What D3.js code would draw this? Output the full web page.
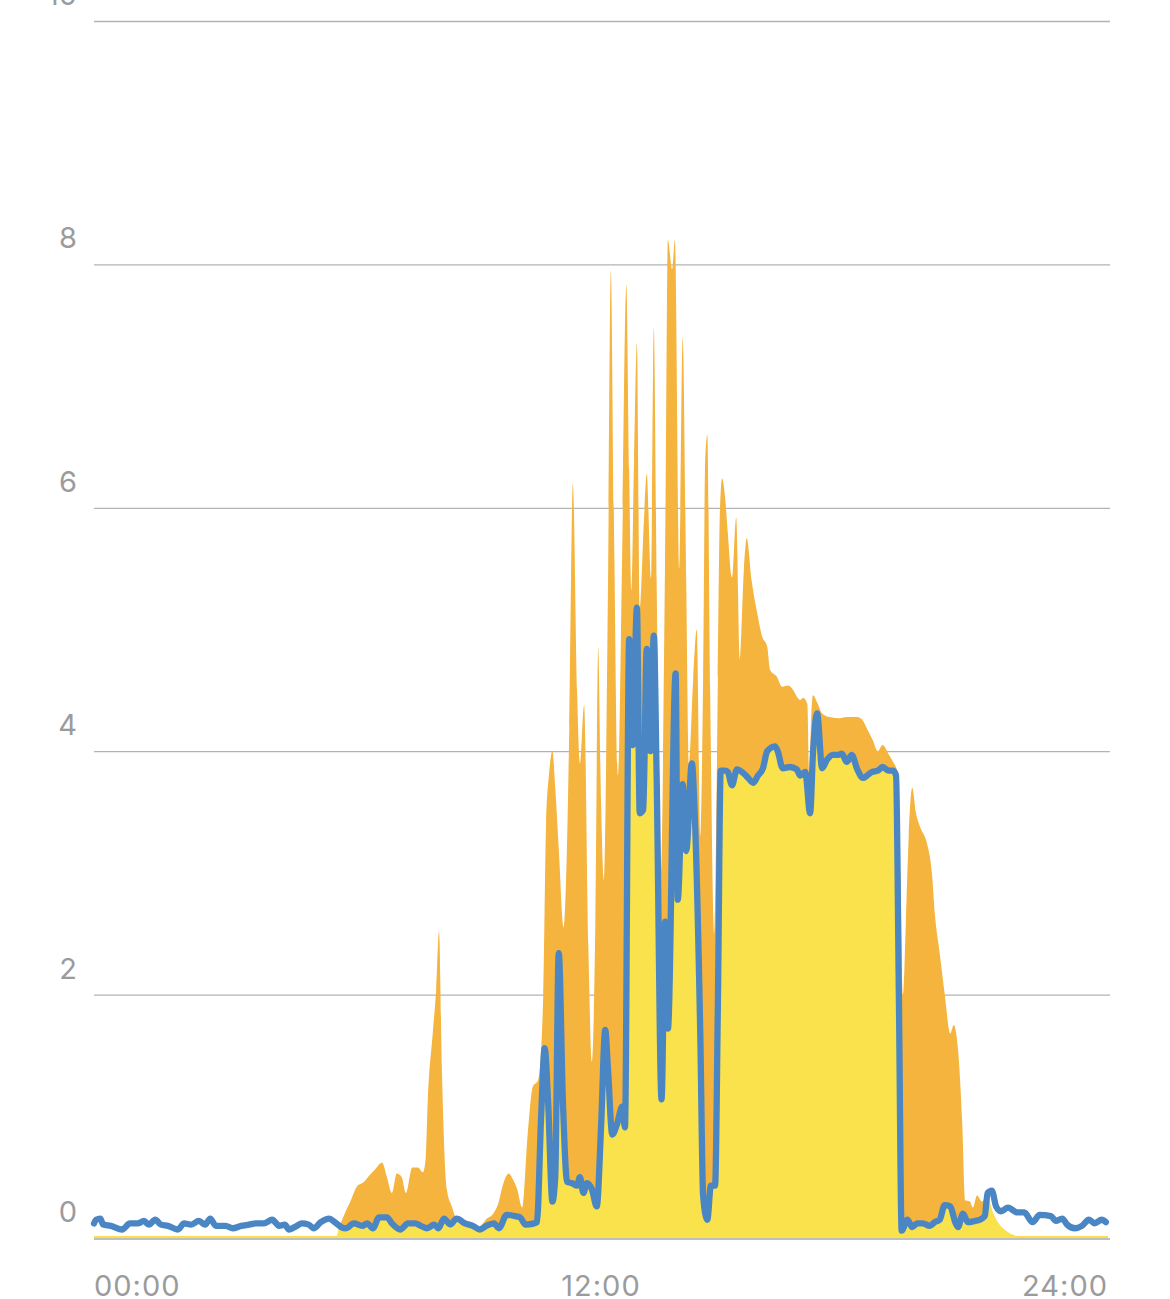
<!DOCTYPE html>
<html>
<head>
<meta charset="utf-8">
<script src="https://cdn.jsdelivr.net/npm/d3@7"></script>
<style>
html,body{margin:0;padding:0;background:#fff;overflow:hidden}
text{font-family:Inter,"Noto Sans",sans-serif;fill:#9b9b9b}
</style>
</head>
<body>
<svg id="chart" width="1170" height="1299"></svg>
<script>
// ---- data (minute of day, kW) ----
const productionMinutes = [0,344,349,356,364,373,383,392,400,409,416,423,430,437,443,452,460,467,471,474,481,486,490,494,501,508,515,524,534,545,558,567,575,579,589,595,601,608,616,623,631,638,642,646,651,655,660,667,675,680,686,690,696,702,707,712,716,720,724,730,734,739,744,750,756,760,763,767,771,775,781,785,791,795,799,805,811,815,821,825,831,836,841,845,851,856,861,865,868,871,875,881,886,889,892,896,900,906,912,917,923,927,934,942,949,956,960,970,977,986,993,998,1003,1007,1013,1016,1018,1021,1027,1034,1045,1059,1069,1084,1092,1099,1106,1113,1120,1128,1135,1140,1145,1149,1153,1157,1162,1167,1173,1183,1190,1194,1201,1208,1216,1221,1227,1233,1237,1244,1248,1254,1261,1268,1277,1287,1297,1305,1314,1325,1440];
const productionKW = [0,0,0.1,0.2,0.3,0.42,0.46,0.52,0.57,0.62,0.5,0.37,0.53,0.5,0.37,0.58,0.58,0.54,0.65,1.13,1.68,2.05,2.52,1.4,0.4,0.26,0.15,0.1,0.08,0.08,0.16,0.2,0.3,0.4,0.53,0.48,0.4,0.25,0.86,1.24,1.3,2.0,3.4,3.8,4.0,3.7,3.2,2.55,4.2,6.2,4.5,3.9,4.38,2.4,1.45,2.6,4.85,3.6,2.94,5.4,7.95,5.6,3.8,5.6,7.83,6.3,5.32,6.4,7.35,5.16,5.9,6.28,5.42,7.48,5.4,3.0,5.6,8.2,7.96,8.2,5.5,7.4,5.4,3.9,4.6,5.0,3.3,4.6,6.4,6.6,4.5,2.5,4.6,6.0,6.24,6.1,5.8,5.43,5.92,4.75,5.5,5.75,5.4,5.13,4.94,4.86,4.67,4.61,4.53,4.54,4.5,4.45,4.42,4.44,4.39,3.7,4.2,4.46,4.4,4.31,4.28,4.27,4.28,4.28,4.25,4.17,4.09,4.0,4.05,3.98,3.91,3.85,3.0,2.0,2.6,3.3,3.7,3.5,3.38,3.24,3.0,2.67,2.34,2.01,1.68,1.75,1.55,0.94,0.31,0.3,0.25,0.35,0.3,0.34,0.2,0.1,0.05,0.025,0.01,0,0];

const consumptionMinutes = [0,3,9,13,24,40,51,62,71,78,87,95,105,119,128,138,149,158,165,173,187,197,209,220,230,241,253,263,271,277,288,295,305,312,322,334,342,351,358,369,381,388,396,405,416,423,435,446,456,464,473,483,489,497,506,515,527,538,548,557,568,575,586,598,605,613,625,629,635,640,645,651,655,660,666,672,679,686,690,695,700,707,714,720,726,730,736,743,750,754,760,765,771,775,780,785,790,795,799,806,811,815,826,829,836,841,849,853,861,865,871,876,882,886,890,896,900,906,913,922,929,936,943,950,956,967,971,978,988,998,1003,1010,1017,1021,1027,1034,1041,1049,1057,1062,1069,1076,1084,1092,1098,1105,1113,1120,1128,1135,1139,1143,1147,1155,1162,1169,1177,1187,1194,1201,1208,1216,1223,1227,1234,1241,1251,1258,1265,1269,1275,1281,1288,1298,1311,1321,1333,1343,1359,1366,1375,1382,1393,1403,1413,1421,1431,1437];
const consumptionKW = [0.12,0.15,0.16,0.11,0.1,0.07,0.12,0.12,0.14,0.11,0.15,0.11,0.1,0.07,0.12,0.11,0.14,0.11,0.16,0.1,0.1,0.08,0.1,0.11,0.12,0.12,0.15,0.1,0.11,0.07,0.1,0.12,0.11,0.08,0.13,0.16,0.13,0.09,0.08,0.12,0.1,0.12,0.08,0.17,0.17,0.12,0.07,0.12,0.12,0.1,0.08,0.11,0.08,0.16,0.11,0.16,0.12,0.1,0.07,0.1,0.12,0.08,0.19,0.18,0.17,0.11,0.12,0.13,1.0,1.56,1.1,0.3,0.5,2.34,1.1,0.46,0.45,0.43,0.5,0.37,0.45,0.4,0.26,0.9,1.71,1.38,0.85,0.94,1.08,0.91,4.92,4.05,5.18,3.49,3.52,4.84,4.0,4.95,3.8,1.14,2.6,1.72,4.64,2.78,3.73,3.18,3.9,3.5,1.67,0.35,0.15,0.43,0.43,1.93,3.84,3.84,3.83,3.72,3.85,3.82,3.78,3.74,3.8,3.86,4.0,4.04,4.0,3.86,3.87,3.85,3.8,3.83,3.49,3.98,4.31,3.86,3.93,3.97,3.97,3.98,3.91,3.97,3.85,3.78,3.8,3.83,3.84,3.87,3.84,3.84,3.8,2.0,0.06,0.15,0.09,0.12,0.12,0.1,0.13,0.15,0.27,0.26,0.13,0.09,0.2,0.13,0.14,0.15,0.18,0.37,0.39,0.26,0.22,0.25,0.21,0.21,0.13,0.19,0.18,0.14,0.16,0.11,0.08,0.1,0.15,0.12,0.15,0.13];

const yTickValues = [0,2,4,6,8,10];
const xTickMinutes = [0,720,1440];
const xTickLabels = ["00:00","12:00","24:00"];

// ---- drawing ----
const svg = d3.select("#chart");
const x = d3.scaleLinear().domain([0,1440]).range([94,1108]);
const y = d3.scaleLinear().domain([0,10]).range([1238,21]);

const production = productionMinutes.map((m,i)=>({m, v:productionKW[i]}));
const consumption = consumptionMinutes.map((m,i)=>({m, v:consumptionKW[i]}));

// gridlines (behind)
svg.append("g").selectAll("line").data(yTickValues.filter(v=>v>0)).join("line")
  .attr("x1",94).attr("x2",1110)
  .attr("y1",d=>y(d)+0.5).attr("y2",d=>y(d)+0.5)
  .attr("stroke","#b3b3b3").attr("stroke-width",1.3);

// y labels
svg.append("g").selectAll("text").data(yTickValues).join("text")
  .attr("x",77).attr("y",d=>y(d)-16)
  .attr("text-anchor","end")
  .attr("font-size",29)
  .text(d=>d);

const area = d3.area().x(d=>x(d.m)).y0(y(0)).y1(d=>y(d.v)).curve(d3.curveMonotoneX);
const line = d3.line().x(d=>x(d.m)).y(d=>y(d.v)).curve(d3.curveMonotoneX);

// yellow baseline stroke
svg.append("line").attr("x1",x(0)).attr("x2",x(1440))
  .attr("y1",y(0)-1).attr("y2",y(0)-1)
  .attr("stroke","#f9e04b").attr("stroke-width",2);

// production area (orange)
svg.append("path").datum(production).attr("d",area).attr("fill","#f4b43e");

// self-consumed = consumption clipped to production (yellow)
svg.append("clipPath").attr("id","prodClip")
  .append("path").datum(production).attr("d",area);
svg.append("path").datum(consumption).attr("d",area)
  .attr("fill","#f9e24b").attr("clip-path","url(#prodClip)");

// zero line
svg.append("line").attr("x1",94).attr("x2",1110)
  .attr("y1",y(0)+1).attr("y2",y(0)+1)
  .attr("stroke","#a8a8a8").attr("stroke-width",1.3);

// consumption line (blue)
svg.append("path").datum(consumption).attr("d",line)
  .attr("fill","none").attr("stroke","#4a86c4").attr("stroke-width",6.3)
  .attr("stroke-linejoin","round").attr("stroke-linecap","round");

// x labels
svg.append("g").selectAll("text").data(xTickMinutes).join("text")
  .attr("x",d=>x(d)).attr("y",1296)
  .attr("text-anchor",(d,i)=> i===0 ? "start" : (i===xTickMinutes.length-1 ? "end" : "middle"))
  .attr("font-size",29).attr("letter-spacing",1)
  .text((d,i)=>xTickLabels[i]);
</script>
</body>
</html>
